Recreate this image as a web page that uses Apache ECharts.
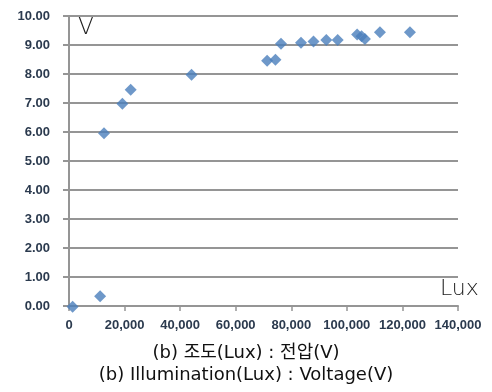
<!DOCTYPE html>
<html>
<head>
<meta charset="utf-8">
<script src="https://cdn.jsdelivr.net/npm/echarts@6/dist/echarts.min.js"></script>
<style>
  html, body { margin: 0; padding: 0; background: #ffffff; }
  #chart { width: 492px; height: 392px; }
</style>
</head>
<body>
<div id="chart"></div>
<script>
// Illumination (lux) vs. generated voltage (V)
const luxValues = [1300, 11200, 12600, 19200, 22200, 44100, 71300, 74300, 76300,
                   83500, 88000, 92600, 96700, 103700, 105300, 106500, 111900, 122700];
const voltValues = [-0.03, 0.34, 5.96, 6.97, 7.46, 7.97, 8.46, 8.49, 9.04,
                    9.08, 9.12, 9.17, 9.17, 9.36, 9.30, 9.21, 9.44, 9.44];
const xTicks = [0, 20000, 40000, 60000, 80000, 100000, 120000, 140000];
const yTicks = [0, 1, 2, 3, 4, 5, 6, 7, 8, 9, 10];
const captionKo = '(b) 조도(Lux) : 전압(V)';
const captionEn = '(b) Illumination(Lux) : Voltage(V)';

const points = luxValues.map((x, i) => [x, voltValues[i]]);
const labelColor = '#2b3a4e';
const gridColor = '#959595';

const chart = echarts.init(document.getElementById('chart'), null, { renderer: 'canvas' });
chart.setOption({
  animation: false,
  backgroundColor: '#ffffff',
  grid: { left: 69, right: 34, top: 16, bottom: 86, containLabel: false },
  xAxis: {
    type: 'value',
    min: xTicks[0],
    max: xTicks[xTicks.length - 1],
    interval: xTicks[1] - xTicks[0],
    axisLine: { show: true, lineStyle: { color: gridColor, width: 2 } },
    axisTick: { show: true, inside: false, length: 5, lineStyle: { color: gridColor, width: 1.5 } },
    splitLine: { show: false },
    axisLabel: {
      margin: 13,
      color: labelColor,
      fontFamily: 'Liberation Sans, Arial, sans-serif',
      fontWeight: 'bold',
      fontSize: 13,
      formatter: v => v.toLocaleString('en-US')
    }
  },
  yAxis: {
    type: 'value',
    min: yTicks[0],
    max: yTicks[yTicks.length - 1],
    interval: yTicks[1] - yTicks[0],
    axisLine: { show: true, lineStyle: { color: gridColor, width: 2 } },
    axisTick: { show: true, length: 6, lineStyle: { color: gridColor, width: 2 } },
    splitLine: { show: true, lineStyle: { color: gridColor, width: 2 } },
    axisLabel: {
      margin: 19,
      color: labelColor,
      fontFamily: 'Liberation Sans, Arial, sans-serif',
      fontWeight: 'bold',
      fontSize: 13,
      formatter: v => v.toFixed(2)
    }
  },
  series: [{
    type: 'scatter',
    data: points,
    symbol: 'diamond',
    symbolSize: 12,
    clip: false,
    itemStyle: { color: '#4a7ebb' }
  }],
  graphic: [
    { type: 'text', left: 78, top: 17,
      style: { text: 'V', fontSize: 23, fontFamily: 'DejaVu Sans, sans-serif', fontWeight: 200, fill: '#222' } },
    { type: 'text', left: 440, top: 278,
      style: { text: 'Lux', fontSize: 22, fontFamily: 'DejaVu Sans, sans-serif', fontWeight: 200, fill: '#222' } },
    { type: 'text', left: 'center', top: 344,
      style: { text: captionKo, fontSize: 18, fontFamily: 'DejaVu Sans, Noto Sans CJK KR, sans-serif', fill: '#111' } },
    { type: 'text', left: 'center', top: 366,
      style: { text: captionEn, fontSize: 18, fontFamily: 'DejaVu Sans, Noto Sans CJK KR, sans-serif', fill: '#111' } }
  ]
});
</script>
</body>
</html>
